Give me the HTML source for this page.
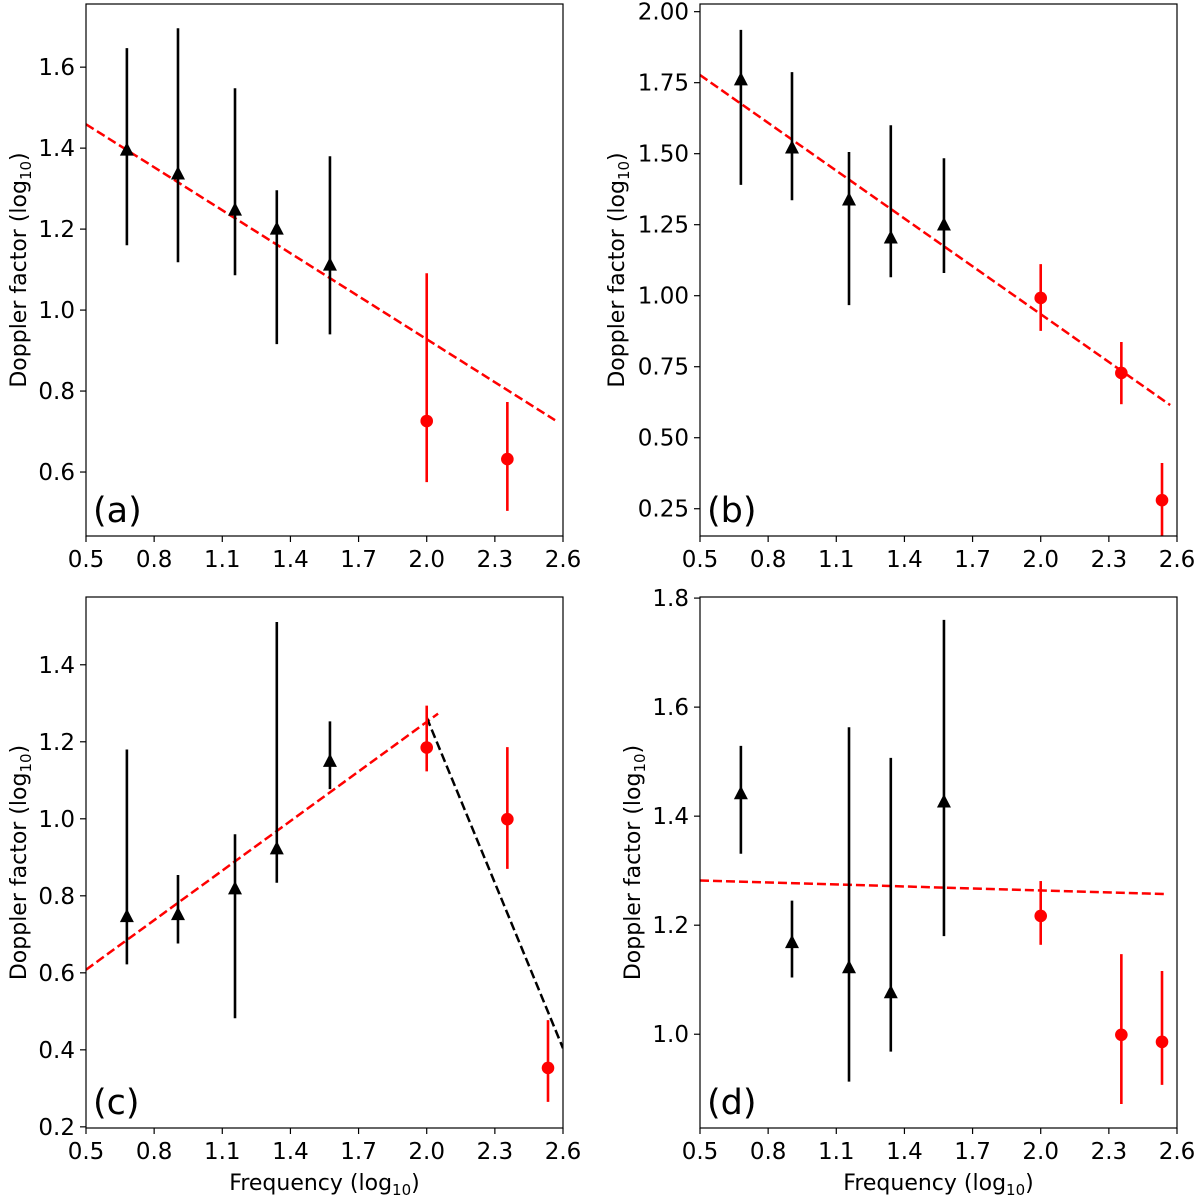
<!DOCTYPE html>
<html><head><meta charset="utf-8"><style>
html,body{margin:0;padding:0;background:#fff;}
svg{display:block;font-family:"DejaVu Sans","Liberation Sans",sans-serif;}
</style></head><body>
<svg id="fig" width="1200" height="1203" viewBox="0 0 1200 1203" xmlns="http://www.w3.org/2000/svg"></svg>
<script>
// shared x positions (log10 frequency)
const freqBlack = [0.68, 0.905, 1.156, 1.34, 1.574];
const freqRed = [2.0, 2.355, 2.534];
const xTicks = [0.5, 0.8, 1.1, 1.4, 1.7, 2.0, 2.3, 2.6];
const xTickLabels = ["0.5","0.8","1.1","1.4","1.7","2.0","2.3","2.6"];

// panel a
const aBlack = [1.395, 1.336, 1.247, 1.2, 1.111];
const aBlackHi = [1.647, 1.696, 1.548, 1.296, 1.38];
const aBlackLo = [1.16, 1.118, 1.086, 0.916, 0.94];
const aRed = [0.726, 0.632];
const aRedHi = [1.091, 0.773];
const aRedLo = [0.575, 0.504];
const aYTicks = [0.6, 0.8, 1.0, 1.2, 1.4, 1.6];
const aYTickLabels = ["0.6","0.8","1.0","1.2","1.4","1.6"];
const aFitX = [0.5, 2.565];
const aFitY = [1.459, 0.728];

// panel b
const bBlack = [1.76, 1.52, 1.337, 1.203, 1.249];
const bBlackHi = [1.936, 1.787, 1.506, 1.60, 1.484];
const bBlackLo = [1.39, 1.336, 0.967, 1.065, 1.08];
const bRed = [0.992, 0.728, 0.28];
const bRedHi = [1.111, 0.837, 0.411];
const bRedLo = [0.876, 0.618, 0.15];
const bYTicks = [0.25, 0.5, 0.75, 1.0, 1.25, 1.5, 1.75, 2.0];
const bYTickLabels = ["0.25","0.50","0.75","1.00","1.25","1.50","1.75","2.00"];
const bFitX = [0.5, 2.57];
const bFitY = [1.777, 0.615];

// panel c
const cBlack = [0.746, 0.751, 0.818, 0.922, 1.149];
const cBlackHi = [1.18, 0.854, 0.96, 1.511, 1.253];
const cBlackLo = [0.622, 0.676, 0.482, 0.834, 1.077];
const cRed = [1.185, 0.999, 0.353];
const cRedHi = [1.294, 1.186, 0.477];
const cRedLo = [1.123, 0.87, 0.265];
const cYTicks = [0.2, 0.4, 0.6, 0.8, 1.0, 1.2, 1.4];
const cYTickLabels = ["0.2","0.4","0.6","0.8","1.0","1.2","1.4"];
const cFitX = [0.5, 2.05];
const cFitY = [0.608, 1.273];
const cFit2X = [2.0, 2.6];
const cFit2Y = [1.263, 0.404];

// panel d
const dBlack = [1.441, 1.168, 1.122, 1.076, 1.426];
const dBlackHi = [1.529, 1.245, 1.563, 1.507, 1.76];
const dBlackLo = [1.331, 1.104, 0.913, 0.968, 1.18];
const dRed = [1.217, 0.999, 0.986];
const dRedHi = [1.281, 1.147, 1.116];
const dRedLo = [1.164, 0.872, 0.907];
const dYTicks = [1.0, 1.2, 1.4, 1.6, 1.8];
const dYTickLabels = ["1.0","1.2","1.4","1.6","1.8"];
const dFitX = [0.5, 2.557];
const dFitY = [1.282, 1.257];

const NS = "http://www.w3.org/2000/svg";
const svg = document.getElementById("fig");
function mk(tag, attrs, parent){
  const e = document.createElementNS(NS, tag);
  for (const k in attrs) e.setAttribute(k, attrs[k]);
  (parent||svg).appendChild(e);
  return e;
}

function panel(id, box, yMin, yMax, yT, yTL, bx, bv, bh, bl, rv, rh, rl, fits, label, showXTitle, titleX){
  const g = mk("g", {});
  
  
  const xs = v => box.l + (v - 0.5) / 2.1 * (box.r - box.l);
  const ys = v => box.b - (v - yMin) / (yMax - yMin) * (box.b - box.t);
  const clip = mk("clipPath", {id: "clip-" + id}, g);
  mk("rect", {x: box.l, y: box.t, width: box.r - box.l, height: box.b - box.t}, clip);
  const plot = mk("g", {"clip-path": "url(#clip-" + id + ")"}, g);
  fits.forEach((f, i) => {
    const ln = mk("line", {x1: xs(f.x[0]), y1: ys(f.y[0]), x2: xs(f.x[1]), y2: ys(f.y[1]),
      stroke: f.c, "stroke-width": 2.5, "stroke-dasharray": "9,4"}, plot);
    
    
  });
  bv.forEach((v, i) => {
    const x = xs(bx[i]);
    const eb = mk("line", {x1: x, x2: x, y1: ys(bh[i]), y2: ys(bl[i]), stroke: "#000", "stroke-width": 2.6}, plot);
    
    
    const y = ys(v);
    const t = mk("polygon", {points: `${x},${y-8} ${x-7},${y+5.5} ${x+7},${y+5.5}`, fill: "#000"}, plot);
    
    
  });
  rv.forEach((v, i) => {
    const x = xs(freqRed[i]);
    const eb = mk("line", {x1: x, x2: x, y1: ys(rh[i]), y2: ys(rl[i]), stroke: "#ff0000", "stroke-width": 2.6}, plot);
    
    
    const c = mk("circle", {cx: x, cy: ys(v), r: 6.3, fill: "#ff0000"}, plot);
    
    
  });
  const fr = mk("rect", {x: box.l, y: box.t, width: box.r - box.l, height: box.b - box.t, fill: "none", stroke: "#000", "stroke-width": 1.2}, g);
  
  
  xTicks.forEach((v, i) => {
    const x = xs(v);
    mk("line", {x1: x, x2: x, y1: box.b, y2: box.b + 6, stroke: "#000", "stroke-width": 1.2}, g);
    const t = mk("text", {x: x, y: box.b + 31, "text-anchor": "middle", "font-size": 23}, g);
    t.textContent = xTickLabels[i];
    
    
  });
  yT.forEach((v, i) => {
    const y = ys(v);
    mk("line", {x1: box.l - 6, x2: box.l, y1: y, y2: y, stroke: "#000", "stroke-width": 1.2}, g);
    const t = mk("text", {x: box.l - 11, y: y + 8, "text-anchor": "end", "font-size": 23}, g);
    t.textContent = yTL[i];
    
    
  });
  const yl = mk("text", {x: 0, y: 0, "text-anchor": "middle", "font-size": 22,
    transform: `translate(${titleX},${(box.t + box.b) / 2}) rotate(-90)`}, g);
  yl.innerHTML = 'Doppler factor (log<tspan font-size="15" dy="5">10</tspan><tspan dy="-5">)</tspan>';
  
  
  if (showXTitle) {
    const xl = mk("text", {x: (box.l + box.r) / 2, y: box.b + 62, "text-anchor": "middle", "font-size": 22}, g);
    xl.innerHTML = 'Frequency (log<tspan font-size="15" dy="5">10</tspan><tspan dy="-5">)</tspan>';
    
    
  }
  const pl = mk("text", {x: box.l + 7, y: box.b - 14, "font-size": 35}, g);
  pl.textContent = label;
  
  
}

panel("a", {l: 86, r: 563, t: 4, b: 536}, 0.442, 1.756, aYTicks, aYTickLabels, freqBlack, aBlack, aBlackHi, aBlackLo, aRed, aRedHi, aRedLo,
  [{x: aFitX, y: aFitY, c: "#ff0000"}], "(a)", false, 26);
panel("b", {l: 700, r: 1177, t: 4, b: 536}, 0.154, 2.027, bYTicks, bYTickLabels, freqBlack, bBlack, bBlackHi, bBlackLo, bRed, bRedHi, bRedLo,
  [{x: bFitX, y: bFitY, c: "#ff0000"}], "(b)", false, 624);
panel("c", {l: 86, r: 563, t: 597, b: 1128}, 0.197, 1.576, cYTicks, cYTickLabels, freqBlack, cBlack, cBlackHi, cBlackLo, cRed, cRedHi, cRedLo,
  [{x: cFitX, y: cFitY, c: "#ff0000"}, {x: cFit2X, y: cFit2Y, c: "#000"}], "(c)", true, 26);
panel("d", {l: 700, r: 1177, t: 597, b: 1128}, 0.828, 1.802, dYTicks, dYTickLabels, freqBlack, dBlack, dBlackHi, dBlackLo, dRed, dRedHi, dRedLo,
  [{x: dFitX, y: dFitY, c: "#ff0000"}], "(d)", true, 640);
</script>
</body></html>
